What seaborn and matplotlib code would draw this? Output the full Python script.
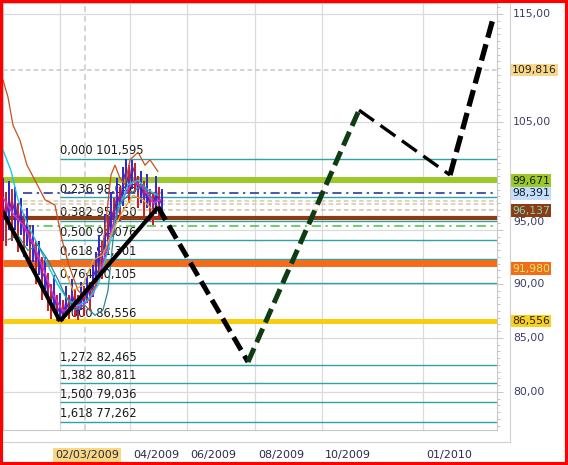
import numpy as np
import pandas as pd
import matplotlib.pyplot as plt
import matplotlib.transforms as mtransforms
from matplotlib.patches import Rectangle
from matplotlib.lines import Line2D
from matplotlib.ticker import MultipleLocator
import seaborn as sns

sns.set_style("white")
plt.rcParams['font.family'] = ['DejaVu Sans']

# -----------------------------------------------------------------------------
# Data (x = bar index, roughly one bar per trading day)

bar_x = np.arange(0, 162, 3)
closes = [97.5, 96.0, 98.0, 96.5, 97.8, 95.5, 96.8, 94.5, 95.8, 93.5,
          94.2, 92.0, 92.8, 90.5, 91.2, 89.0, 88.2, 89.5, 87.2, 88.0,
          86.9, 88.5, 87.5, 89.2, 88.0, 87.3, 89.0, 88.2, 89.8, 88.8,
          90.5, 91.5, 93.0, 92.0, 95.0, 94.2, 97.0, 96.0, 98.5, 97.2,
          99.5, 100.5, 99.0, 101.0, 100.2, 98.5, 99.5, 97.8, 98.8, 97.0,
          96.8, 98.9, 97.3, 98.0]
highs = [99.8, 98.5, 99.5, 98.8, 99.0, 97.5, 98.0, 96.5, 97.0, 95.5,
         95.5, 94.0, 94.0, 92.5, 92.5, 91.0, 90.0, 90.8, 89.0, 89.2,
         88.5, 89.8, 89.0, 90.5, 89.5, 89.0, 90.2, 89.8, 91.0, 90.2,
         91.8, 93.0, 94.5, 94.0, 96.5, 96.0, 98.5, 98.0, 99.8, 99.0,
         100.8, 101.6, 101.0, 101.5, 101.2, 100.0, 100.5, 99.5, 100.2, 98.8,
         98.5, 100.0, 99.0, 98.8]
lows = [94.0, 93.5, 95.0, 94.0, 95.0, 93.0, 94.5, 92.5, 93.5, 91.5,
        92.0, 90.0, 90.8, 88.5, 89.5, 87.5, 86.8, 87.8, 86.6, 86.8,
        86.6, 87.0, 86.8, 87.5, 86.9, 86.7, 87.6, 87.0, 88.2, 87.5,
        88.8, 89.8, 91.0, 90.5, 92.5, 92.8, 94.5, 94.5, 96.2, 95.8,
        97.2, 98.5, 97.5, 98.8, 98.5, 97.0, 97.5, 96.2, 97.0, 95.8,
        95.5, 96.5, 96.0, 96.8]

brown_x = [0, 5, 10, 17, 24, 32, 42, 52, 59, 66, 75, 85, 95, 102, 108, 112,
           117, 122, 127, 135, 142, 147, 155]
brown_y = [108.9, 107.3, 104.7, 103.3, 101.0, 99.6, 97.8, 97.3, 94.1, 91.7,
           89.4, 88.5, 90.4, 95.0, 100.1, 101.0, 99.8, 99.2, 101.5, 102.2,
           101.0, 101.5, 100.4]
cyan_x = [0, 8, 15, 25, 35, 45, 55, 65, 75, 85, 95, 105, 115, 125, 135, 145, 155]
cyan_y = [102.4, 100.5, 97.8, 95.4, 93.6, 91.7, 89.9, 88.5, 88.0, 88.5, 89.9,
          93.1, 96.8, 99.2, 99.6, 98.7, 98.2]
teal_x = [5, 15, 25, 35, 45, 55, 62, 72, 82, 92, 100, 105, 110, 115, 125, 140, 150]
teal_y = [94.1, 94.5, 93.1, 93.6, 92.2, 90.4, 89.0, 87.6, 88.0, 87.1, 87.6,
          89.4, 94.1, 97.3, 98.2, 99.2, 97.8]
orange_x = [60, 70, 80, 90, 100, 110, 120, 130, 140, 150, 155]
orange_y = [91.7, 89.4, 89.9, 92.2, 92.7, 95.0, 96.8, 98.2, 97.8, 96.8, 97.3]
magenta_x = [0, 10, 20, 30, 40, 50, 60, 70, 80, 90, 100, 110, 120, 130, 140, 150, 158]
magenta_y = [98.0, 96.5, 95.5, 93.8, 91.5, 89.0, 87.5, 87.8, 88.0, 89.0, 92.0,
             95.5, 98.0, 99.5, 99.0, 97.5, 97.8]

# Fibonacci levels
fib_ratio = ['0,000', '0,236', '0,382', '0,500', '0,618', '0,764', '1,000',
             '1,272', '1,382', '1,500', '1,618']
fib_level = [101.595, 98.046, 95.850, 94.076, 92.301, 90.105, 86.556,
             82.465, 80.811, 79.036, 77.262]

# thick horizontal levels
level_value = [99.671, 96.137, 91.980, 86.556]
level_color = ['#9dc82a', '#8e3a12', '#f26c1c', '#f8cc10']
level_width = [4.3, 3.0, 5.0, 3.6]

# thin dashed levels
thin_value = [109.816, 98.391, 97.66, 97.38, 96.83, 95.36]
thin_color = ['#c8c8c8', '#1a2a9a', '#d8c8a8', '#d8c8a8', '#d0c0a0', '#48c048']

# projected zigzag
zz_x = [0, 57, 155, 245, 356, 447, 491]
zz_y = [96.67, 86.556, 97.13, 82.78, 106.1, 100.09, 114.9]

# axes labels
price_ticks = [80, 85, 90, 95, 105, 115]
price_labels = ['80,00', '85,00', '90,00', '95,00', '105,00', '115,00']
grid_x = [57, 127, 184, 252, 319, 420]
date_pos = [127, 184, 252, 319, 420]
date_labels = ['04/2009', '06/2009', '08/2009', '10/2009', '01/2010']
cursor_x = 82
cursor_label = '02/03/2009'

tag_text = ['109,816', '99,671', '98,391', '96,137', '91,980', '86,556']
tag_value = [109.816, 99.671, 98.391, 96.137, 91.980, 86.556]
tag_bg = ['#f8d888', '#9dc82a', '#c6ddf6', '#8e3a12', '#f26c1c', '#f8d020']
tag_fg = ['#202020', '#102010', '#102040', '#78d8b8', '#e0ec70', '#302000']

# -----------------------------------------------------------------------------
fig = plt.figure(figsize=(5.68, 4.65), dpi=100)
ax = fig.add_axes([3 / 568, 35 / 465, 494 / 568, 427 / 465])
ax.set_xlim(0, 494)
ax.set_ylim(76.48, 116.02)

# grid
ax.hlines(price_ticks, 0, 494, color='#dadada', lw=0.9, zorder=0)
ax.vlines(grid_x, 76.48, 116.02, color='#dadada', lw=0.9, zorder=0)
ax.axvline(cursor_x, color='#d4d4d4', lw=1.4, ls=(0, (3, 2)), zorder=0)

# fib lines and labels
ax.hlines(fib_level, 57, 494, color='#2ea2aa', lw=1.0, zorder=1)
for r, v in zip(fib_ratio, fib_level):
    ax.annotate(f'{r} {v:.3f}'.replace('.', ','), (57, v), xytext=(0, 1),
                textcoords='offset points', ha='left', va='bottom',
                fontsize=8.3, color='#1a1a1a', zorder=2)

# thin dashed levels
for v, c in zip(thin_value, thin_color):
    start = 0 if v > 105 else 20
    if c in ('#1a2a9a', '#48c048'):
        ls = (0, (6, 3, 1.5, 3))
    else:
        ls = (0, (3, 2))
    ax.hlines(v, start, 494, color=c, lw=1.1, ls=ls, zorder=2)

# thick levels
for v, c, w in zip(level_value, level_color, level_width):
    ax.hlines(v, 0, 494, color=c, lw=w, zorder=3)

# price bars and indicators
prev = [closes[0]] + closes[:-1]
bar_cols = ['#2a2ad0' if c >= p else '#d01a1a' for c, p in zip(closes, prev)]
ax.vlines(bar_x, lows, highs, colors=bar_cols, lw=1.4, zorder=4)
sns.lineplot(x=bar_x, y=closes, ax=ax, color='#6020c0', lw=0.9, zorder=4)
sns.lineplot(x=magenta_x, y=magenta_y, ax=ax, color='#d030d0', lw=1.2, zorder=4)
sns.lineplot(x=brown_x, y=brown_y, ax=ax, color='#c8501e', lw=0.9, zorder=4)
sns.lineplot(x=cyan_x, y=cyan_y, ax=ax, color='#18c8e4', lw=1.0, zorder=4)
sns.lineplot(x=teal_x, y=teal_y, ax=ax, color='#2a8a8a', lw=0.9, zorder=4)
sns.lineplot(x=orange_x, y=orange_y, ax=ax, color='#f0a030', lw=0.9, zorder=4)

# zigzag projection
seg_style = [
    dict(color='black', lw=3.0, ls='-'),
    dict(color='black', lw=3.0, ls='-'),
    dict(color='black', lw=3.6, ls=(0, (3.0, 1.3))),
    dict(color='#0f3c12', lw=3.6, ls=(0, (3.0, 1.3))),
    dict(color='black', lw=2.4, ls=(0, (5.5, 2.4))),
    dict(color='black', lw=3.8, ls=(0, (3.2, 1.3))),
]
for i, st in enumerate(seg_style):
    ax.plot(zz_x[i:i + 2], zz_y[i:i + 2], solid_capstyle='butt', zorder=6, **st)

# axes styling
for s in ax.spines.values():
    s.set_color('#c8c8c8')
    s.set_linewidth(0.8)
ax.yaxis.tick_right()
ax.set_yticks(price_ticks)
ax.set_yticklabels([])
ax.yaxis.set_minor_locator(MultipleLocator(0.625))
ax.set_xticks(grid_x)
ax.set_xticklabels([])
ax.xaxis.set_minor_locator(MultipleLocator(11))
ax.tick_params(which='both', direction='out', color='#c4c4c4', length=4, width=0.7)
ax.tick_params(which='minor', length=2.5)
ax.set_xlabel('')
ax.set_ylabel('')

yt = mtransforms.blended_transform_factory(ax.transAxes, ax.transData)
xt = mtransforms.blended_transform_factory(ax.transData, ax.transAxes)

price_dy = {'95,00': 8}
for lab, v in zip(price_labels, price_ticks):
    ax.annotate(lab, (1, v), xycoords=yt, xytext=(16, price_dy.get(lab, 0)),
                textcoords='offset pixels', ha='left', va='center',
                fontsize=7.8, color='#3c3c66', annotation_clip=False)

tag_dy = {'96,137': 7, '91,980': -6, '99,671': -1}
for t, v, bg, fg in zip(tag_text, tag_value, tag_bg, tag_fg):
    ax.annotate(t, (1, v), xycoords=yt, xytext=(15, tag_dy.get(t, 0)),
                textcoords='offset pixels', ha='left', va='center',
                fontsize=7.8, color=fg, annotation_clip=False,
                bbox=dict(boxstyle='square,pad=0.12', fc=bg, ec='none'))

for lab, p in zip(date_labels, date_pos):
    ax.annotate(lab, (p, 0), xycoords=xt, xytext=(3, -25),
                textcoords='offset pixels', ha='left', va='center',
                fontsize=8, color='#2a2a4a', annotation_clip=False)
ax.annotate(cursor_label, (cursor_x, 0), xycoords=xt, xytext=(2, -25),
            textcoords='offset pixels', ha='center', va='center',
            fontsize=8, color='#2a2a4a', annotation_clip=False,
            bbox=dict(boxstyle='square,pad=0.15', fc='#f8d880', ec='none'))

# outer frame of the chart area and red border
fig.add_artist(Line2D([510 / 568, 510 / 568], [1 - 3 / 465, 1 - 442 / 465],
                      transform=fig.transFigure, color='#d0d0d0', lw=0.8))
fig.add_artist(Line2D([3 / 568, 510 / 568], [1 - 442 / 465, 1 - 442 / 465],
                      transform=fig.transFigure, color='#d0d0d0', lw=0.8))
fig.add_artist(Rectangle((0, 0), 1, 1, transform=fig.transFigure, fill=False,
                         edgecolor='#ff0000', lw=4.4))

fig.savefig('out.png', dpi=100)
